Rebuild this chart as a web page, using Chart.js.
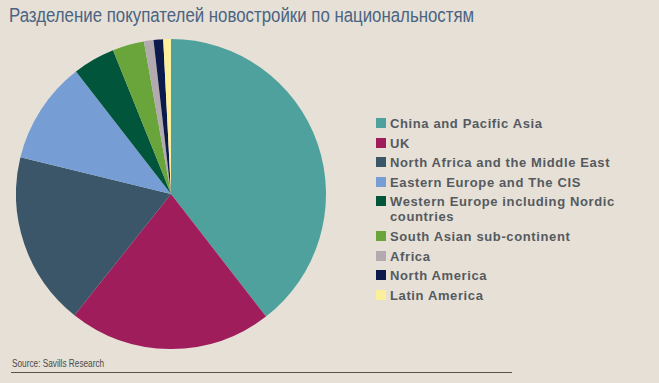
<!DOCTYPE html>
<html>
<head>
<meta charset="utf-8">
<script src="https://cdn.jsdelivr.net/npm/chart.js@4"></script>
<style>
  html, body { margin:0; padding:0; }
  body { width:659px; height:383px; background:#e6e0d6; position:relative; overflow:hidden; font-family:"Liberation Sans", Arial, sans-serif; }
  #title { position:absolute; left:9px; top:4px; font-size:19.5px; color:#4b6482; white-space:nowrap; transform-origin:0 0; transform:scaleX(0.863); }
  #wrap { position:absolute; left:16px; top:39px; width:310px; height:310px; }
  #legend { position:absolute; left:376px; top:116px; }
  .row { display:flex; align-items:flex-start; font-weight:bold; font-size:13px; letter-spacing:0.62px; color:#555a60; line-height:15px; margin-bottom:4.6px; }
  .box { width:10px; height:10px; margin-top:2px; margin-right:4px; flex:none; }
  #source { position:absolute; left:12px; top:357px; font-size:11px; color:#4a4a4a; white-space:nowrap; transform-origin:0 0; transform:scaleX(0.75); }
  #rule { position:absolute; left:11px; top:372px; width:501px; height:1px; background:#5a524a; }
</style>
</head>
<body>
<div id="title">Разделение покупателей новостройки по национальностям</div>
<div id="wrap"><canvas id="c" width="310" height="310"></canvas></div>
<div id="legend"></div>
<div id="source">Source: Savills Research</div>
<div id="rule"></div>
<script>
const categories = [
  "China and Pacific Asia",
  "UK",
  "North Africa and the Middle East",
  "Eastern Europe and The CIS",
  "Western Europe including Nordic countries",
  "South Asian sub-continent",
  "Africa",
  "North America",
  "Latin America"
];
const shares = [39.5, 21.2, 18.1, 10.7, 4.4, 3.3, 1.0, 1.0, 0.8];
const colors = ["#4fa19d", "#a01d5c", "#3b5669", "#769ed4", "#00553a", "#6aa53b", "#b3aaaf", "#0b1a4a", "#fcef9b"];
const legendLines = [
  ["China and Pacific Asia"],
  ["UK"],
  ["North Africa and the Middle East"],
  ["Eastern Europe and The CIS"],
  ["Western Europe including Nordic", "countries"],
  ["South Asian sub-continent"],
  ["Africa"],
  ["North America"],
  ["Latin America"]
];

const lg = document.getElementById('legend');
categories.forEach((c, i) => {
  const row = document.createElement('div');
  row.className = 'row';
  const b = document.createElement('div');
  b.className = 'box';
  b.style.background = colors[i];
  const t = document.createElement('div');
  t.innerHTML = legendLines[i].join('<br>');
  row.appendChild(b); row.appendChild(t);
  lg.appendChild(row);
});

new Chart(document.getElementById('c'), {
  type: 'pie',
  data: {
    labels: categories,
    datasets: [{ data: shares, backgroundColor: colors, borderWidth: 0, hoverOffset: 0 }]
  },
  options: {
    responsive: false,
    animation: false,
    layout: { padding: 0 },
    plugins: { legend: { display: false }, tooltip: { enabled: false }, title: { display: false } }
  }
});
</script>
</body>
</html>
